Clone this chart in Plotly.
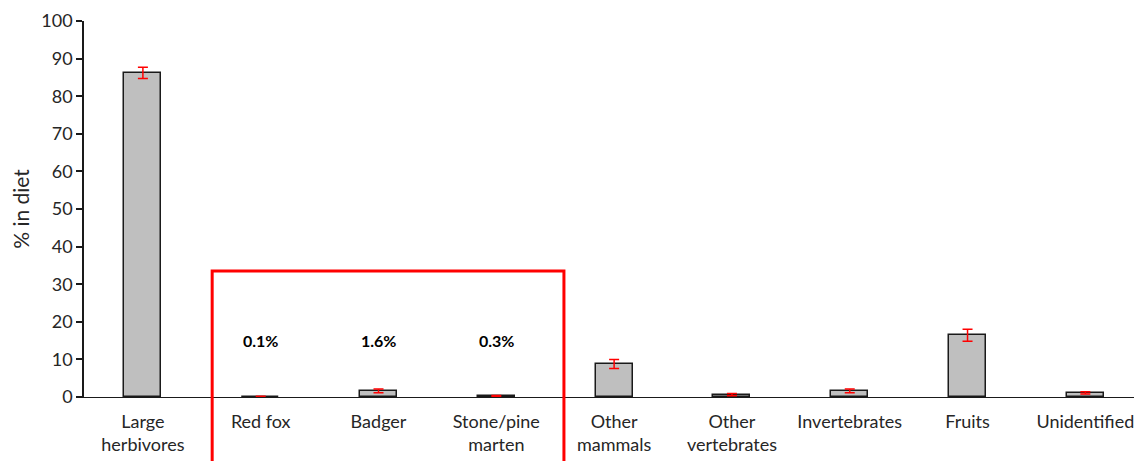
import plotly.graph_objects as go

# Diet composition (% in diet) with standard errors
categories = ["Large<br>herbivores", "Red fox", "Badger", "Stone/pine<br>marten",
              "Other<br>mammals", "Other<br>vertebrates", "Invertebrates", "Fruits",
              "Unidentified"]
values = [86.2, 0.1, 1.6, 0.3, 8.8, 0.6, 1.6, 16.4, 1.1]
errors = [1.5, 0.1, 0.5, 0.1, 1.2, 0.3, 0.5, 1.6, 0.3]

# Mesocarnivore prey highlighted inside the red box
highlight_labels = ["0.1%", "1.6%", "0.3%"]
highlight_idx = [1, 2, 3]
label_y = 15
box_top = 33.5

font_family = "Lato, 'Open Sans', sans-serif"
text_color = "#262626"

x_pos = list(range(len(categories)))

fig = go.Figure()
fig.add_trace(go.Bar(
    x=x_pos,
    y=values,
    width=0.315,
    marker=dict(color="#BFBFBF", line=dict(color="#1a1a1a", width=1.5)),
    error_y=dict(type="data", array=errors, color="#FF0000", thickness=1.5, width=5),
    showlegend=False,
))

for i, txt in zip(highlight_idx, highlight_labels):
    fig.add_annotation(x=i, y=label_y, text=f"<b>{txt}</b>", showarrow=False,
                       font=dict(family=font_family, size=16, color="#000000"))

# Red frame around the three carnivore categories, open at the bottom
y_min, y_max = 0, 100
top_paper = (box_top - y_min) / (y_max - y_min)
x_left, x_right = highlight_idx[0] - 0.412, highlight_idx[-1] + 0.574
fig.add_shape(
    type="path", xref="x", yref="paper",
    path=f"M {x_left},-0.4 L {x_left},{top_paper} L {x_right},{top_paper} L {x_right},-0.4",
    line=dict(color="#FF0000", width=3), fillcolor="rgba(0,0,0,0)",
)

fig.update_layout(
    width=1134, height=461,
    margin=dict(l=84, r=0, t=21, b=64),
    paper_bgcolor="white", plot_bgcolor="white",
    font=dict(family=font_family, size=18, color=text_color),
    bargap=0,
)
fig.update_xaxes(
    range=[-0.5, 8.413],
    tickmode="array", tickvals=x_pos, ticktext=categories,
    showline=True, linecolor="#1a1a1a", linewidth=1.2,
    showgrid=False, zeroline=False, ticks="",
    ticklabelstandoff=8, ticklabeloverflow="allow",
    tickfont=dict(size=18, color=text_color),
)
fig.update_yaxes(
    range=[y_min, y_max], dtick=10,
    showline=True, linecolor="#1a1a1a", linewidth=1.5,
    ticks="outside", ticklen=6, tickwidth=1.5, tickcolor="#1a1a1a",
    showgrid=False, zeroline=False,
    title=dict(text="% in diet", font=dict(size=21, color=text_color), standoff=6),
    tickfont=dict(size=18, color=text_color),
)

fig.write_html("out.html")
